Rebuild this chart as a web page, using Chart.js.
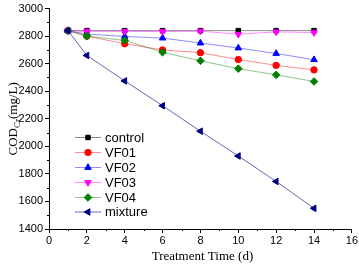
<!DOCTYPE html>
<html><head><meta charset="utf-8">
<script src="https://cdn.jsdelivr.net/npm/chart.js@4/dist/chart.umd.min.js"></script>
<style>html,body{margin:0;padding:0;background:#fff;}#wrap{width:359px;height:268px;position:relative;}</style>
</head><body><div id="wrap"><canvas id="c" width="359" height="268"></canvas></div>
<script>
const days = [1, 2, 4, 6, 8, 10, 12, 14];
const control = [2840, 2840, 2840, 2840, 2840, 2840, 2840, 2840];
const vf01 = [2840, 2800, 2745, 2700, 2680, 2630, 2588, 2555];
const vf02 = [2840, 2815, 2798, 2786, 2750, 2714, 2674, 2629];
const vf03 = [2840, 2835, 2835, 2833, 2836, 2814, 2831, 2826];
const vf04 = [2840, 2800, 2769, 2683, 2621, 2564, 2519, 2471];
const mixture = [2840, 2660, 2475, 2295, 2110, 1930, 1745, 1550];
const seriesNames = ['control', 'VF01', 'VF02', 'VF03', 'VF04', 'mixture'];
const xTitle = 'Treatment Time (d)';

const styles = [
  {c:'#000000', l:'rgba(0,0,0,0.45)', p:'rect', r:0, rad:3.2},
  {c:'#ff0000', l:'rgba(255,0,0,0.45)', p:'circle', r:0, rad:3.2},
  {c:'#0000ff', l:'rgba(0,0,255,0.45)', p:'triangle', r:0, rad:3.8},
  {c:'#ff00ff', l:'rgba(255,0,255,0.45)', p:'triangle', r:180, rad:3.8},
  {c:'#008000', l:'rgba(0,128,0,0.45)', p:'rectRot', r:0, rad:3.8},
  {c:'#000080', l:'rgba(0,0,128,0.6)', p:'triangle', r:-90, rad:3.8}
];
const allData = [control, vf01, vf02, vf03, vf04, mixture];
const datasets = allData.map((arr, i) => ({
  label: seriesNames[i],
  data: arr.map((v, k) => ({x: days[k], y: v})),
  borderColor: styles[i].l,
  backgroundColor: styles[i].c,
  pointBackgroundColor: styles[i].c,
  pointBorderColor: styles[i].c,
  pointStyle: styles[i].p,
  pointRotation: styles[i].r,
  pointRadius: styles[i].rad,
  pointBorderWidth: 1,
  borderWidth: 1,
  order: 5 - i,
  tension: 0
}));

const SANS = '"Liberation Sans", Arial, sans-serif';
const SERIF = '"Liberation Serif", "Times New Roman", serif';

const textPlugin = {
  id: 'texts',
  afterDraw(chart) {
    const ctx = chart.ctx;
    const ca = chart.chartArea;
    ctx.save();
    // minor ticks
    ctx.strokeStyle = '#000'; ctx.lineWidth = 1;
    const xs = chart.scales.x, ys = chart.scales.y;
    ctx.beginPath();
    for (let v = 1; v < 16; v += 2) {
      const px = Math.round(xs.getPixelForValue(v)) + 0.5;
      ctx.moveTo(px, ca.bottom); ctx.lineTo(px, ca.bottom + 2);
    }
    for (let v = 1500; v < 3000; v += 200) {
      const py = Math.round(ys.getPixelForValue(v)) + 0.5;
      ctx.moveTo(ca.left, py); ctx.lineTo(ca.left - 2, py);
    }
    ctx.stroke();
    // x title
    ctx.fillStyle = '#000';
    ctx.font = '13px ' + SERIF;
    ctx.textAlign = 'center';
    ctx.textBaseline = 'alphabetic';
    ctx.fillText(xTitle, (ca.left + ca.right) / 2 + 2, 260);
    // y title with subscript
    ctx.translate(17, (ca.top + ca.bottom) / 2);
    ctx.rotate(-Math.PI / 2);
    const f1 = '13px ' + SERIF, f2 = '9px ' + SERIF;
    ctx.font = f1; const w1 = ctx.measureText('COD').width;
    ctx.font = f2; const w2 = ctx.measureText('Cr').width;
    ctx.font = f1; const w3 = ctx.measureText('(mg/L)').width;
    let x = -(w1 + w2 + w3) / 2;
    ctx.textAlign = 'left';
    ctx.font = f1; ctx.fillText('COD', x, 0); x += w1;
    ctx.font = f2; ctx.fillText('Cr', x, 3); x += w2;
    ctx.font = f1; ctx.fillText('(mg/L)', x, 0);
    ctx.restore();
    // legend
    ctx.save();
    const rows = [137, 152, 167, 182, 197, 211.5];
    chart.data.datasets.forEach((ds, i) => {
      const y = rows[i];
      ctx.strokeStyle = ds.borderColor;
      ctx.lineWidth = 1;
      ctx.beginPath(); ctx.moveTo(75, y + 0.5); ctx.lineTo(101, y + 0.5); ctx.stroke();
      ctx.fillStyle = ds.pointBackgroundColor;
      ctx.strokeStyle = ds.pointBorderColor;
      Chart.helpers.drawPoint(ctx, {pointStyle: ds.pointStyle, rotation: ds.pointRotation, radius: ds.pointRadius, borderWidth: 1}, 88, y + 0.5);
      ctx.fillStyle = '#000';
      ctx.font = '13px ' + SANS;
      ctx.textAlign = 'left';
      ctx.textBaseline = 'middle';
      ctx.fillText(ds.label, 105, y + 1);
    });
    ctx.restore();
  }
};

new Chart(document.getElementById('c'), {
  type: 'line',
  data: {datasets},
  options: {
    responsive: false,
    animation: false,
    events: [],
    layout: {padding: {left: 0, right: 7, top: 5, bottom: 0}},
    plugins: {legend: {display: false}, tooltip: {enabled: false}},
    scales: {
      x: {
        type: 'linear', min: 0, max: 16,
        afterFit(s) { s.height = 39; },
        grid: {drawOnChartArea: false, tickLength: 4, color: '#000', tickColor: '#000'},
        border: {display: true, color: '#000', width: 1},
        ticks: {stepSize: 2, autoSkip: false, maxRotation: 0, padding: 1, color: '#000',
          font: {family: SANS, size: 11}, callback: v => String(v)}
      },
      y: {
        min: 1400, max: 3000,
        afterFit(s) { s.width = 49; },
        grid: {drawOnChartArea: false, tickLength: 4, color: '#000', tickColor: '#000'},
        border: {display: true, color: '#000', width: 1},
        ticks: {stepSize: 200, autoSkip: false, padding: 2, color: '#000',
          font: {family: SANS, size: 11}, callback: v => String(v)}
      }
    }
  },
  plugins: [textPlugin]
});
</script>
</body></html>
